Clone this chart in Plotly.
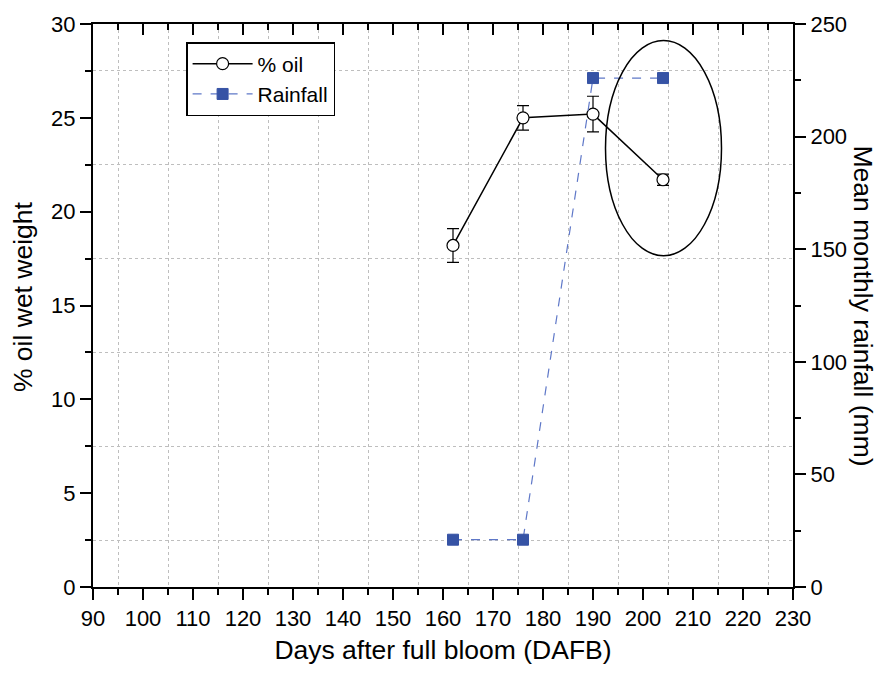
import plotly.graph_objects as go

# Sampling days after full bloom
dafb = [162, 176, 190, 204]
# Oil content (% wet weight) with standard error
oil_pct = [18.2, 25.0, 25.2, 21.7]
oil_err = [0.9, 0.65, 0.95, 0.3]
# Mean monthly rainfall (mm)
rainfall_mm = [21, 21, 226, 226]

FONT = "Liberation Sans, Arial, sans-serif"
BLUE = "rgb(54,83,165)"
GRID = "rgb(190,190,190)"

fig = go.Figure()

fig.add_trace(go.Scatter(
    x=dafb, y=oil_pct, name="% oil", mode="lines+markers",
    line=dict(color="black", width=1.5),
    marker=dict(symbol="circle", size=12, color="white",
                line=dict(color="black", width=1.2)),
    error_y=dict(type="data", array=oil_err, visible=True,
                 color="black", thickness=1.2, width=6),
))

fig.add_trace(go.Scatter(
    x=dafb, y=rainfall_mm, name="Rainfall", mode="lines+markers",
    yaxis="y2",
    line=dict(color="rgb(95,120,200)", width=1.2, dash="dash"),
    marker=dict(symbol="square", size=11, color=BLUE,
                line=dict(color=BLUE, width=1)),
))

# empty trace so the mirrored top axis gets drawn
fig.add_trace(go.Scatter(x=[], y=[], xaxis="x2", showlegend=False,
                         hoverinfo="skip"))

# oval highlighting the last two sampling dates
fig.add_shape(type="circle", xref="x", yref="y",
              x0=192.5, x1=215.7, y0=17.65, y1=29.12,
              line=dict(color="black", width=1.5))

axis_common = dict(
    showline=True, linecolor="black", linewidth=2,
    zeroline=False, ticks="outside", tickcolor="black",
    ticklen=11, tickwidth=2,
    tickfont=dict(family=FONT, size=22, color="black"),
)

fig.update_layout(
    width=886, height=675,
    margin=dict(l=93, r=93, t=22, b=88),
    plot_bgcolor="white", paper_bgcolor="white",
    font=dict(family=FONT, color="black"),
    showlegend=True,
    legend=dict(x=0.133, y=0.968, xanchor="left", yanchor="top",
                bordercolor="black", borderwidth=1.5, bgcolor="white",
                font=dict(family=FONT, size=21, color="black"),
                tracegroupgap=0, itemwidth=60),
    xaxis=dict(
        range=[90, 230], dtick=10, tick0=90, showgrid=False,
        minor=dict(dtick=5, tick0=90, ticklen=6, tickwidth=2,
                   ticks="outside", tickcolor="black",
                   showgrid=True, gridcolor=GRID, griddash="dot",
                   gridwidth=1),
        title=dict(text="Days after full bloom (DAFB)",
                   font=dict(family=FONT, size=26.5, color="black"),
                   standoff=10),
        **axis_common,
    ),
    xaxis2=dict(
        range=[90, 230], dtick=10, tick0=90, overlaying="x", side="top",
        showline=True, linecolor="black", linewidth=2, zeroline=False,
        showgrid=False, ticks="inside", ticklen=11, tickwidth=2,
        tickcolor="black", showticklabels=False,
        minor=dict(dtick=5, tick0=90, ticklen=6, tickwidth=2,
                   ticks="inside", tickcolor="black", showgrid=False),
    ),
    yaxis=dict(
        range=[0, 30], dtick=5, tick0=0, showgrid=False,
        minor=dict(dtick=2.5, tick0=0, ticklen=6, tickwidth=2,
                   ticks="outside", tickcolor="black",
                   showgrid=True, gridcolor=GRID, griddash="dot",
                   gridwidth=1),
        **axis_common,
    ),
    yaxis2=dict(
        range=[0, 250], dtick=50, tick0=0, overlaying="y", side="right",
        showgrid=False,
        minor=dict(dtick=25, tick0=0, ticklen=6, tickwidth=2,
                   ticks="outside", tickcolor="black", showgrid=False),
        **axis_common,
    ),
)

fig.add_annotation(text="% oil wet weight", xref="paper", yref="paper",
                   x=-0.1, y=0.515, xanchor="center", yanchor="middle",
                   textangle=-90, showarrow=False,
                   font=dict(family=FONT, size=26.5, color="black"))
fig.add_annotation(text="Mean monthly rainfall (mm)", xref="paper",
                   yref="paper", x=1.1, y=0.5, xanchor="center",
                   yanchor="middle", textangle=90, showarrow=False,
                   font=dict(family=FONT, size=26.5, color="black"))

fig.write_html("out.html")
